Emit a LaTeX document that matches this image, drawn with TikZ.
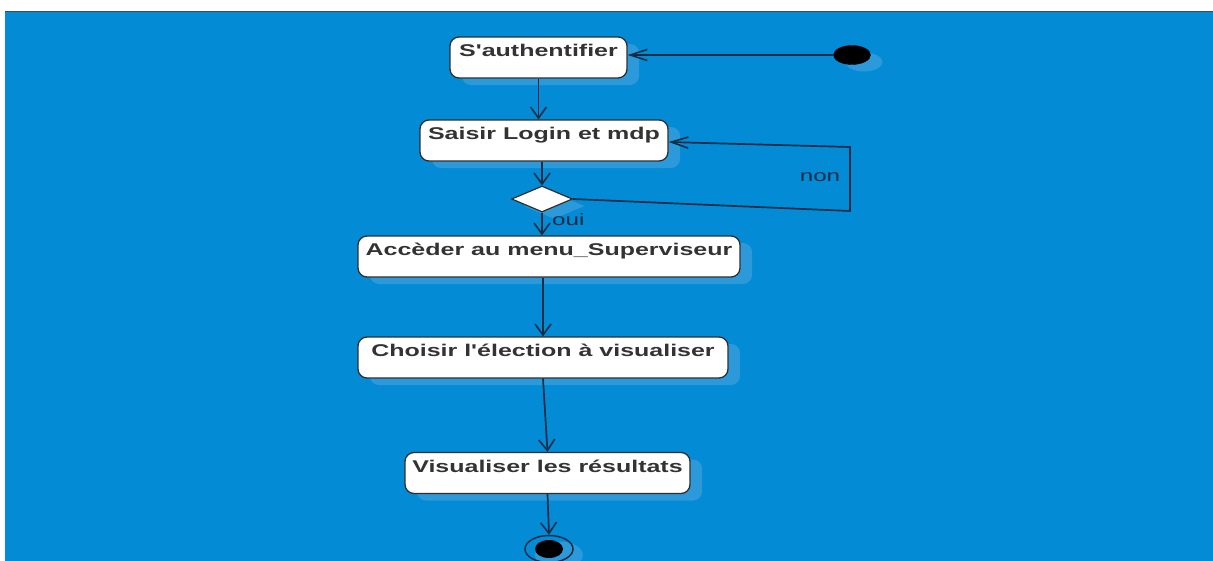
\documentclass[tikz,border=0pt]{standalone}
\usepackage{fontspec}
\usepackage{graphicx}
\setmainfont{Liberation Sans}
\usetikzlibrary{shapes.geometric,arrows.meta,shadows,calc}

\definecolor{bgblue}{HTML}{038BD6}
\definecolor{shadeblue}{HTML}{2C9ADA}
\definecolor{linenavy}{HTML}{0E2D47}
\definecolor{boxedge}{HTML}{2E2E2E}
\definecolor{boxtext}{HTML}{333333}
\definecolor{topline}{HTML}{3C4C58}

% labels are set wide, as in the diagram editor's export
\newcommand\widetext[1]{\scalebox{1.47}[1]{#1}}

\tikzset{
  action/.style={rectangle, rounded corners=9pt, draw=boxedge, line width=1.3pt,
    fill=white, inner sep=0pt, minimum height=41pt,
    text height=19.5pt, text depth=21.5pt, text=boxtext,
    font=\fontsize{17pt}{19pt}\selectfont\bfseries,
    general shadow={fill=shadeblue, shadow xshift=12pt, shadow yshift=-7pt}},
  link/.style={draw=linenavy, line width=1.7pt},
  flowv/.style={link, -{Straight Barb[length=11pt,width=16pt,line width=1.6pt]}},
  flowh/.style={link, -{Straight Barb[length=17pt,width=11pt,line width=1.6pt]}},
  guard/.style={text=linenavy, inner sep=0pt, font=\fontsize{16.5pt}{18pt}\selectfont},
  startdot/.style={ellipse, fill=black, draw=black, inner sep=0pt,
    minimum width=37pt, minimum height=19pt,
    general shadow={fill=shadeblue, shadow xshift=12pt, shadow yshift=-7pt}},
  choice/.style={diamond, draw=boxedge, line width=1.2pt, fill=white, inner sep=0pt,
    minimum width=61pt, minimum height=26pt,
    general shadow={fill=shadeblue, shadow xshift=12pt, shadow yshift=-7pt}},
  endring/.style={ellipse, draw=linenavy, line width=1.5pt, inner sep=0pt,
    minimum width=48pt, minimum height=27pt,
    general shadow={fill=shadeblue, shadow xshift=10pt, shadow yshift=-6pt}},
  endcore/.style={ellipse, fill=black, inner sep=0pt,
    minimum width=28pt, minimum height=18pt},
}

\begin{document}
\begin{tikzpicture}[x=1pt,y=-1pt]
  \useasboundingbox (0,0) rectangle (1213,560);
  % page background and canvas
  \fill[white] (-5,-5) rectangle (1220,570);
  \fill[bgblue] (5,12) rectangle (1220,570);
  \draw[topline, line width=1.6pt] (5,11.5) -- (1220,11.5);

  % activities
  \node[action, minimum width=177pt] (auth) at (538.5,57.5) {\widetext{S\textquotesingle authentifier}};
  \node[action, minimum width=248pt] (login) at (544,140.5) {\widetext{Saisir Login et mdp}};
  \node[choice] (check) at (542,199) {};
  \node[action, minimum width=382pt] (menu) at (549,256.5) {\widetext{Accèder au menu\_Superviseur}};
  \node[action, minimum width=370pt] (pick) at (543,357.5) {\widetext{Choisir l\textquotesingle élection à visualiser}};
  \node[action, minimum width=285pt] (show) at (547.5,473) {\widetext{Visualiser les résultats}};

  % start and end
  \node[startdot] (start) at (852,55) {};
  \node[endring] (stop) at (549,549) {};
  \node[endcore] (stopcore) at (stop.center) {};

  % loop-back corners
  \coordinate (loopA) at (850,211);
  \coordinate (loopB) at (850,147);

  % transitions
  \draw[flowh] (start.west) -- (auth.east |- start.west);
  \draw[flowv] (auth.south) -- (auth.south |- login.north);
  \draw[flowv] (login.south -| check.north) -- (check.north);
  \draw[flowh] (check.east) -- (loopA) -- (loopB) -- ($(login.east)+(0,1.5)$);
  \draw[flowv] (check.south) -- (check.south |- menu.north);
  \draw[flowv] (pick.north |- menu.south) -- (pick.north);
  \draw[flowv] (pick.south) -- (show.north);
  \draw[flowv] (show.south) -- (stop.north);

  % guards
  \node[guard] (nonlabel) at (820,177) {\widetext{non}};
  \node[guard, anchor=west] (ouilabel) at (552,220) {\widetext{oui}};
\end{tikzpicture}
\end{document}
